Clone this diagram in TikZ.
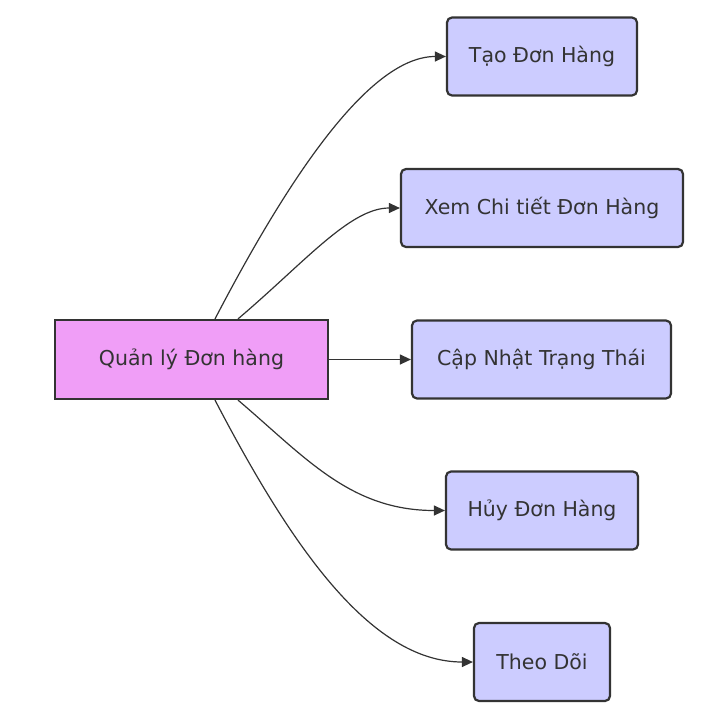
\documentclass[tikz,border=0pt]{standalone}
\usepackage{fontspec}
\setmainfont{DejaVu Sans}
\usetikzlibrary{arrows.meta,calc}
\definecolor{txt}{HTML}{333333}
\definecolor{mainfill}{HTML}{F09EF7}
\definecolor{subfill}{HTML}{CCCCFF}
\tikzset{
  box/.style={draw=txt, line width=2.2pt, text=txt, font=\fontsize{20.5}{24}\selectfont, inner sep=0pt, anchor=center},
  mainbox/.style={box, fill=mainfill, minimum width=273pt, minimum height=79pt},
  subbox/.style={box, fill=subfill, rounded corners=5pt, minimum height=78pt},
  conn/.style={draw=txt, line width=1.2pt, -{Triangle[length=11pt,width=10pt]}}
}
\begin{document}
\begin{tikzpicture}[x=1pt,y=-1pt]
\useasboundingbox (0,0) rectangle (722,715);
\node[mainbox] (main) at (191.5,359.5) {Quản lý Đơn hàng};
\node[subbox, minimum width=190pt] (tao) at (542,56.5) {Tạo Đơn Hàng};
\node[subbox, minimum width=282pt] (xem) at (542,208) {Xem Chi tiết Đơn Hàng};
\node[subbox, minimum width=259pt] (cap) at (541.5,359.5) {Cập Nhật Trạng Thái};
\node[subbox, minimum width=192pt] (huy) at (542,510.5) {Hủy Đơn Hàng};
\node[subbox, minimum width=136pt] (theo) at (542,662) {Theo Dõi};
\coordinate (s1) at ($(main.north)+(23.5,0)$);
\coordinate (s2) at ($(main.north)+(46.5,0)$);
\coordinate (s4) at ($(main.south)+(46.5,0)$);
\coordinate (s5) at ($(main.south)+(23.5,0)$);
\draw[conn] (s1) .. controls (290,175) and (370,56.5) .. (tao.west);
\draw[conn] (s2) .. controls (305,262) and (350,208) .. (xem.west);
\draw[conn] (main.east) -- (cap.west);
\draw[conn] (s4) .. controls (305,457) and (350,510.5) .. (huy.west);
\draw[conn] (s5) .. controls (290,544) and (370,662) .. (theo.west);
\end{tikzpicture}
\end{document}
